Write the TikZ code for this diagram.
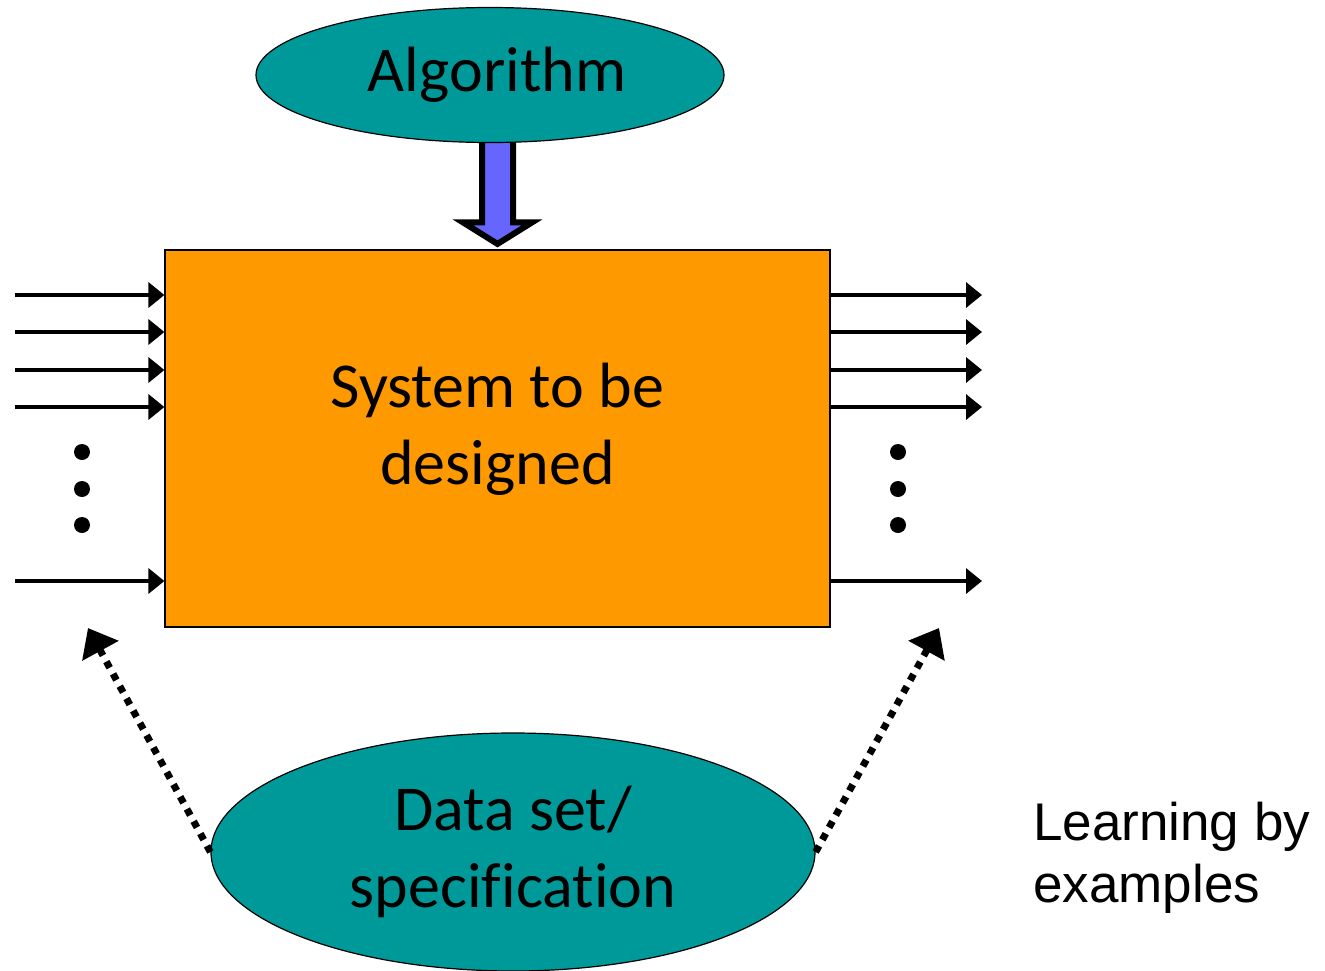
\documentclass[tikz,border=0pt]{standalone}
\usepackage{fontspec}
\setmainfont{Carlito}[Ligatures=NoCommon]
\newfontfamily\arialfont{Liberation Sans}
\usetikzlibrary{shapes.geometric,arrows.meta,calc,backgrounds}
\definecolor{tealfill}{RGB}{0,153,153}
\definecolor{orangefill}{RGB}{255,153,0}
\definecolor{bluefill}{RGB}{102,102,255}
\begin{document}
\begin{tikzpicture}[x=1pt,y=-1pt,
  ell/.style={ellipse,draw=black,line width=1.2pt,fill=tealfill,inner sep=0pt,align=center},
  sysbox/.style={rectangle,draw=black,line width=1.2pt,fill=orangefill,inner sep=0pt,minimum width=665pt,minimum height=377pt,align=center},
  io/.style={line width=3.5pt,-{Triangle[length=16pt,width=25pt]}},
  dotarr/.style={line width=7pt,dash pattern=on 7pt off 7pt,-{Triangle[length=26pt,width=40pt]}},
  vdot/.style={circle,fill=black,inner sep=0pt,minimum size=16pt},
  fat/.style={draw=black,line width=6pt,fill=bluefill,line join=miter},
  bigtext/.style={font=\fontsize{64}{77}\selectfont}]
\useasboundingbox (0,0) rectangle (1325,970);
\clip (0,0) rectangle (1325,970);

\node[ell,bigtext,minimum width=468pt,minimum height=135pt] (alg) at (490,75) {\hspace*{14pt}Algorithm};
\node[sysbox,bigtext] (sys) at (497.5,438.5) {System to be\\designed\rule[-30pt]{0pt}{1pt}};
\node[ell,bigtext,minimum width=604pt,minimum height=238pt] (data) at (513,852) {Data set/\\specification};
\node[anchor=west,align=left,font=\arialfont\fontsize{53}{62}\selectfont,inner sep=0pt] (learn) at (1033,858) {Learning by\\examples};

% fat arrow from Algorithm to system
\coordinate (fattop) at (sys.north |- alg.south);
\begin{pgfonlayer}{background}
\draw[fat] ($(fattop)+(-15.5,-10)$) -- ($(sys.north)+(-15.5,-27)$) -- ($(sys.north)+(-34.5,-27)$)
  -- ($(sys.north)+(0,-5.5)$) -- ($(sys.north)+(34.5,-27)$) -- ($(sys.north)+(15.5,-27)$)
  -- ($(fattop)+(15.5,-10)$) -- cycle;
\end{pgfonlayer}

% inputs and outputs
\foreach \i/\yy in {1/295,2/332,3/370,4/407,5/581}{
  \coordinate (in\i) at (15,\yy);
  \coordinate (out\i) at (982,\yy);
  \draw[io] (in\i) -- (in\i -| sys.west);
  \draw[io] (out\i -| sys.east) -- (out\i);
}

% dots
\foreach \i/\yy in {1/452,2/489,3/525}{
  \node[vdot] (ld\i) at (82,\yy) {};
  \node[vdot] (rd\i) at (898,\yy) {};
}

% dotted arrows
\coordinate (tipL) at (88,628);
\coordinate (tipR) at (939,628);
\draw[dotarr] (data.west) -- (tipL);
\draw[dotarr] (data.east) -- (tipR);
\end{tikzpicture}
\end{document}
